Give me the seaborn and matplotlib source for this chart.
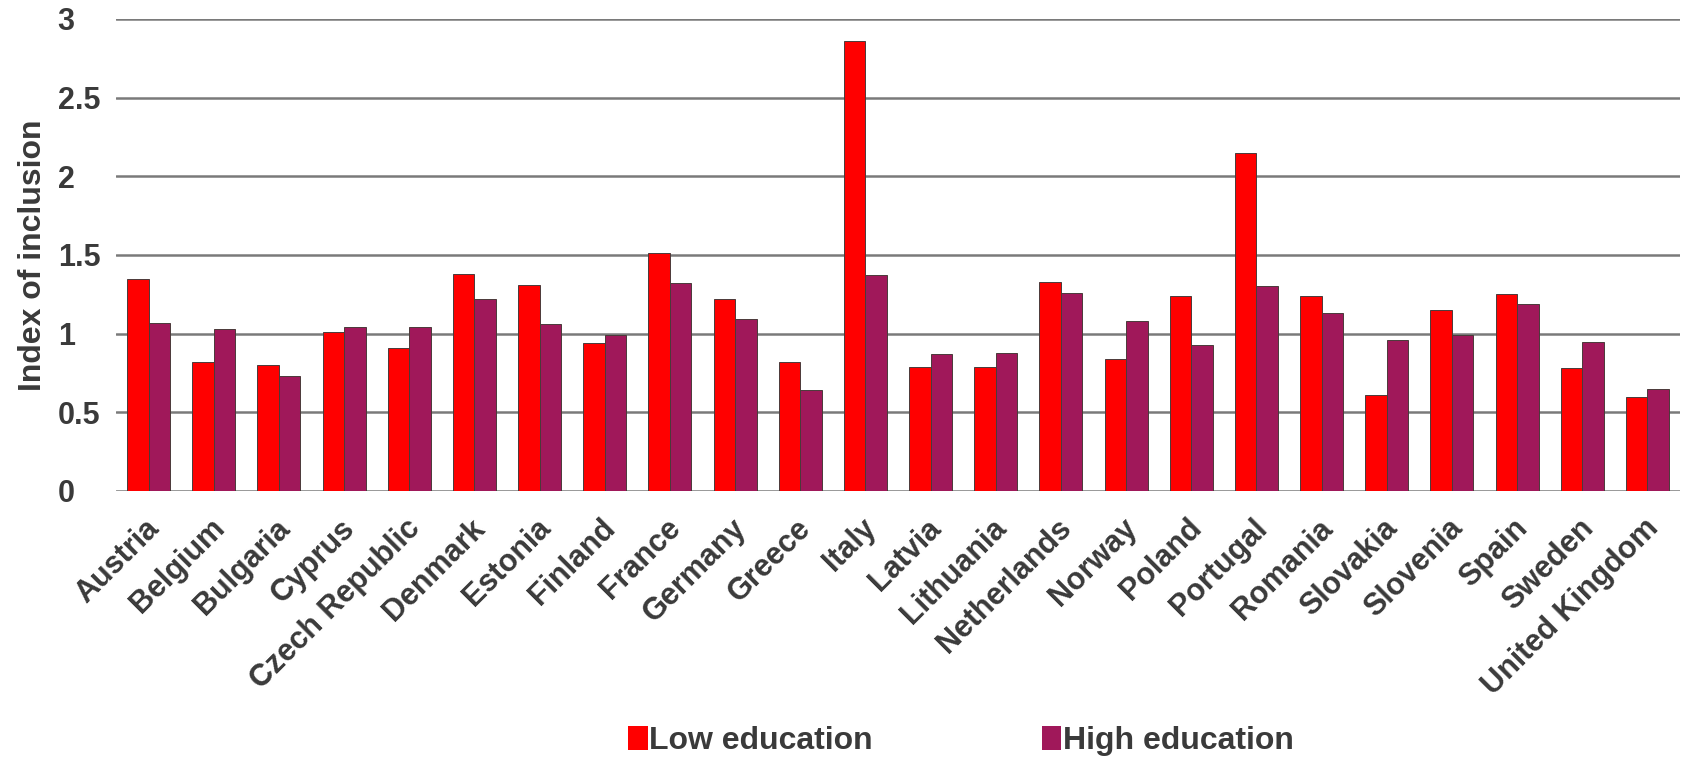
import numpy as np
import pandas as pd
import matplotlib
matplotlib.use("Agg")
import matplotlib.pyplot as plt
import matplotlib.transforms as mtransforms
import seaborn as sns
from matplotlib.patches import Patch

countries = ["Austria", "Belgium", "Bulgaria", "Cyprus", "Czech Republic", "Denmark",
             "Estonia", "Finland", "France", "Germany", "Greece", "Italy", "Latvia",
             "Lithuania", "Netherlands", "Norway", "Poland", "Portugal", "Romania",
             "Slovakia", "Slovenia", "Spain", "Sweden", "United Kingdom"]
low_education = [1.35, 0.82, 0.80, 1.01, 0.91, 1.38, 1.31, 0.94, 1.51, 1.22, 0.82, 2.86,
                 0.79, 0.79, 1.33, 0.84, 1.24, 2.15, 1.24, 0.61, 1.15, 1.25, 0.78, 0.60]
high_education = [1.07, 1.03, 0.73, 1.04, 1.04, 1.22, 1.06, 0.99, 1.32, 1.09, 0.64, 1.37,
                  0.87, 0.88, 1.26, 1.08, 0.93, 1.30, 1.13, 0.96, 0.99, 1.19, 0.95, 0.65]
series_names = ["Low education", "High education"]
y_ticks = [0, 0.5, 1, 1.5, 2, 2.5, 3]
y_tick_labels = ["0", "0.5", "1", "1.5", "2", "2.5", "3"]

df = pd.DataFrame({
    "country": countries * 2,
    "value": low_education + high_education,
    "series": [series_names[0]] * len(countries) + [series_names[1]] * len(countries),
})

sns.set_theme(style="white")
plt.rcParams["font.family"] = ["Liberation Sans", "DejaVu Sans"]
plt.rcParams["font.weight"] = "bold"

colors = {"Low education": "#FF0000", "High education": "#A0185A"}
text_color = "#3a3a3a"

fig = plt.figure(figsize=(16.89, 7.57), dpi=100)
ax = fig.add_axes([0.0687, 0.3514, 0.926, 0.6236])

sns.barplot(data=df, x="country", y="value", hue="series", order=countries,
            hue_order=series_names, palette=colors, width=0.66, gap=0,
            edgecolor="#4a3a3a", linewidth=0.7, saturation=1, ax=ax, legend=False,
            zorder=3)

ax.set_ylim(0, 3)
ax.set_xlim(-0.5, len(countries) - 0.5)
ax.set_yticks(y_ticks)
ax.set_yticklabels(y_tick_labels, fontsize=22, color=text_color, fontweight="bold", ha="left")
ax.yaxis.grid(True, color="#7a7a7a", linewidth=1.8, zorder=0)
ax.set_axisbelow(True)
for s in ax.spines.values():
    s.set_visible(False)
ax.tick_params(axis="both", length=0)
ax.tick_params(axis="y", pad=42)
ax.set_xlabel("")
ax.set_ylabel("Index of inclusion", fontsize=23, color=text_color, fontweight="bold", labelpad=7)
ax.set_xticks(range(len(countries)))
ax.set_xticklabels(countries, rotation=45, ha="right", rotation_mode="anchor",
                   fontsize=22, color=text_color, fontweight="bold")
ax.tick_params(axis="x", pad=16)
shift = mtransforms.ScaledTranslation(-3 / 72, 0, fig.dpi_scale_trans)
for lbl in ax.get_xticklabels():
    lbl.set_transform(lbl.get_transform() + shift)

handles = [Patch(facecolor=colors[n], edgecolor="none") for n in series_names]
fig.legend(handles, series_names, loc="center", bbox_to_anchor=(0.569, 0.021), ncol=2,
           frameon=False, handlelength=0.6, handleheight=0.75,
           handletextpad=0.05, columnspacing=5.3, labelcolor=text_color,
           prop={"weight": "bold", "size": 23})

fig.savefig("out.png", dpi=100, facecolor="white")
